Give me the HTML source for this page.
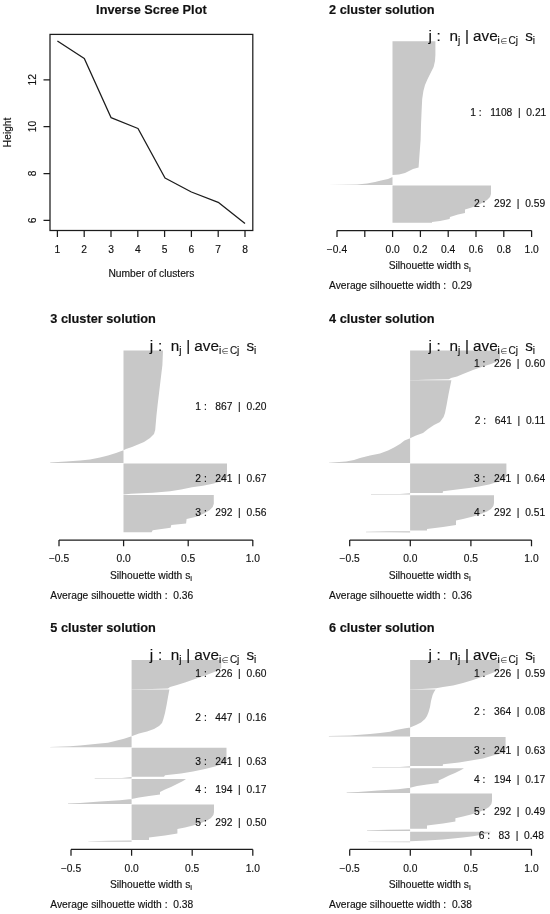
<!DOCTYPE html>
<html lang="en"><head><meta charset="utf-8"><title>Inverse Scree Plot and silhouette plots</title>
<style>
html,body{margin:0;padding:0;background:#fff}
svg{display:block}
text{font-family:"Liberation Sans","DejaVu Sans",sans-serif;fill:#111;stroke:#111;stroke-width:.15px;white-space:pre}
.t{font-size:12.75px;font-weight:bold}
.a{font-size:10.25px}
.h{font-size:15.3px}
.s{font-size:10.0px}
.e{font-family:"DejaVu Sans","Liberation Sans",sans-serif;font-size:8px;fill:#555;stroke:none}
.ss{font-size:8px}
.g polygon{fill:#c8c8c8}
</style></head><body>
<svg width="550" height="914" viewBox="0 0 550 914">
<rect width="550" height="914" fill="#fff"/>
<g class="g">
<polygon points="392.5,41.3 435.4,41.3 435.4,55 435,61 433.6,67 430.6,73 427.6,79 425,85 423.4,91 422.2,99 421.6,111 421,125 420.6,140 419.4,156 418.6,167.6 413,169 409,171 405,173 399,174.4 392.5,175 392.5,177 388,179 381,180.6 375,182 367,183.6 357,184.4 328.7,185 392.5,185.1"/>
<polygon points="392.5,185.5 491,185.5 491,194 490,197 487,200 482,203 476,206 470,208 465,209.6 465,213 458,214.4 450,217 449.6,219 440,221 432,222 432,222.8 392.5,222.8"/>
<polygon points="123.5,350.6 163,350.6 162.4,365 160,385 157.6,405 156.4,416 155.2,430 154,434 150,438 144,442 138,444.4 132,447 126,449 123.5,450.2 116,453 108,455.6 100,457.6 90,459.4 80,460.6 66,461.6 50.2,462.5 50.2,462.9 123.5,462.9"/>
<polygon points="123.5,463.5 227,463.5 227,478.3 222.6,480.7 213.8,483.6 202.9,485.7 192,487.3 181.1,489.5 170.2,491.2 152.7,492.7 130.9,493.8 123.5,494.5"/>
<polygon points="123.5,495.1 213.8,495.1 213.8,503.7 212.7,507 209.5,510.3 204,513.5 196.4,516.8 186.6,519 186.1,523.4 171.3,525.1 170.6,527.7 152.7,530.3 151.6,532.2 123.5,532.2"/>
<polygon points="410.1,350.6 500,350.6 500,359 497,361.4 491,364 483,366.6 473,370 463,374 457,376.6 451,378 449,379.3 425,379.8 410.1,380.3"/>
<polygon points="410.1,380.3 451.4,380.3 450,387 448.4,395 446.6,405 445,413 443.6,417 440,422 434,425 428,429 423,433 416,435.6 410.1,438.2 404.5,440.6 400,444 394,447.4 388,450.6 380,453.4 370,455.6 360,458 354,460 346,461.4 328.9,462.7 328.9,463.1 410.1,463.1"/>
<polygon points="410.1,463.6 506.4,463.6 506.4,476 505,479 499,481.6 489,484.4 479,486.4 469,488 457,489.4 443,491.2 442.7,492.9 410.1,492.9"/>
<polygon points="410.1,493.3 400,494 371,494.1 371,494.5 410.1,494.6"/>
<polygon points="410.1,495.2 494,495.2 494,503 493.4,506 491,509 487,511.6 481,514 473,516.6 463,519 456,520.4 456,525 443,527 427,529 427,530.5 410.1,530.5"/>
<polygon points="410.1,531.2 389,531.3 366,531.8 366,532.2 389,532.3 410.1,532.4"/>
<polygon points="131.6,660 221.2,660 221.2,668 218,670.6 213,672.6 205,675.6 195,679 185,682.6 177,685 170,687 168,688.5 143,689.2 131.6,689.6"/>
<polygon points="131.6,689.6 169.4,689.6 168,697 166.6,705 165,713 163.4,719 162,723 159,726 154,729 147,731.4 139,733.4 131.6,736.2 124,738.8 116,740.8 108,742.7 100,743.6 90,744.6 80,745.4 70,746.2 50.2,746.9 50.2,747.3 131.6,747.3"/>
<polygon points="131.6,747.8 226.5,747.8 226.5,761 224,763.6 215,766.4 205,769 193,771.6 181,773.4 165,775.2 164,776.7 131.6,776.7"/>
<polygon points="131.6,777.1 122,778 94.7,778.1 94.7,778.5 131.6,778.6"/>
<polygon points="131.6,779.1 186,779.1 183,781 177,784 171,787 165,789.6 160,792 160,794.4 149,796 139,797.6 131.6,799 120,800.3 100,801.5 80,802.9 68,803.5 68,803.9 131.6,803.9"/>
<polygon points="131.6,804.4 214,804.4 214,812 213.4,815 211,818 207,820.6 201,823 193,825.4 185,827.4 177.4,829 177.4,833.4 165,835.4 149,837.4 149,839.9 131.6,839.9"/>
<polygon points="131.6,840.6 110,840.8 88.3,841.2 88.3,841.6 110,841.7 131.6,841.8"/>
<polygon points="410.1,660 499.6,660 499.6,669 497,671 491,673.4 483,676.6 473,680 463,683 453,685.4 443,687 436,688.2 417,689.2 410.1,689.6"/>
<polygon points="410.1,689.6 435.6,689.6 434,692 432.6,695 431,701 430,707 428.6,712 427,716 425,719 421,722.6 416,725 410.1,727.4 404,728.6 396,730 390,731.8 380,733 370,734 360,734.8 350,735.4 328.9,736 328.9,736.4 410.1,736.4"/>
<polygon points="410.1,737 505.6,737 505.6,750 503,753 493,755.6 483,758.4 471,760.6 459,762.4 443,764.3 442.7,765.9 410.1,765.9"/>
<polygon points="410.1,766.3 400,767 372.2,767.1 372.2,767.5 410.1,767.6"/>
<polygon points="410.1,768.3 464,768.3 461,770 455,773 449,775.6 443,778.6 438.6,780.6 438.6,783 427,784.6 417,786 410.1,787.8 398,789.2 378,790.5 358,791.9 346.7,792.6 346.7,793 410.1,793"/>
<polygon points="410.1,793.6 492,793.6 492,801 491.4,804 489,807 485,809.4 479,812 471,814.4 463,816.6 455.4,818.2 455.4,821.4 443,823.4 427,825.6 427,828.8 410.1,828.8"/>
<polygon points="410.1,829.6 389,829.8 367,830.3 367,830.7 389,830.9 410.1,831"/>
<polygon points="410.1,831.7 491,831.7 489,833 483,834.6 473,836.2 463,837.4 453,838.6 443,839.6 427,840.6 410.1,841.2"/>
<polygon points="410.1,841.6 368.3,841.8 368.3,842.1 410.1,842.2"/>
</g>
<g>
<text class="t" x="151.4" y="13.6" text-anchor="middle">Inverse Scree Plot</text>
<rect x="50" y="34.4" width="202.8" height="196.1" fill="none" stroke="#1c1c1c" stroke-width="1.25"/>
<text class="a" x="57.4" y="252.5" text-anchor="middle">1</text>
<text class="a" x="84.2" y="252.5" text-anchor="middle">2</text>
<text class="a" x="111" y="252.5" text-anchor="middle">3</text>
<text class="a" x="137.8" y="252.5" text-anchor="middle">4</text>
<text class="a" x="164.6" y="252.5" text-anchor="middle">5</text>
<text class="a" x="191.4" y="252.5" text-anchor="middle">6</text>
<text class="a" x="218.2" y="252.5" text-anchor="middle">7</text>
<text class="a" x="245" y="252.5" text-anchor="middle">8</text>
<text class="a" text-anchor="middle" transform="translate(36.1 220.4) rotate(-90)">6</text>
<text class="a" text-anchor="middle" transform="translate(36.1 173.5) rotate(-90)">8</text>
<text class="a" text-anchor="middle" transform="translate(36.1 126.6) rotate(-90)">10</text>
<text class="a" text-anchor="middle" transform="translate(36.1 79.8) rotate(-90)">12</text>
<path d="M57.4 230.5V236.9M84.2 230.5V236.9M111 230.5V236.9M137.8 230.5V236.9M164.6 230.5V236.9M191.4 230.5V236.9M218.2 230.5V236.9M245 230.5V236.9M50 220.4H43.5M50 173.5H43.5M50 126.6H43.5M50 79.8H43.5" fill="none" stroke="#1c1c1c" stroke-width="1.25"/>
<text class="a" x="151.4" y="276.6" text-anchor="middle">Number of clusters</text>
<text class="a" text-anchor="middle" transform="translate(10.6 132.4) rotate(-90)">Height</text>
<polyline points="57.4,41 84.3,58.5 111,117.6 138,128.5 165,178 191.4,192 218.2,202.3 245,223.4" fill="none" stroke="#1c1c1c" stroke-width="1.3" stroke-linejoin="round"/>
</g>
<g transform="translate(278.7 0)">
<text class="t" x="50.3" y="13.6">2 cluster solution</text>
<text class="h" y="41.4"><tspan x="149.8">j</tspan><tspan x="157.9">:</tspan><tspan x="170.7">n</tspan><tspan class="s" x="179.2" dy="2.8">j</tspan><tspan x="186.3" dy="-2.8">|</tspan><tspan x="194.3">ave</tspan><tspan class="s" x="218.9" dy="2.8">i</tspan><tspan class="s e" x="221.7">∈</tspan><tspan class="s" x="229.9">Cj</tspan><tspan x="246.5" dy="-2.8">s</tspan><tspan class="s" x="254.1" dy="2.8">i</tspan></text>
<text class="a" x="58.3" y="253" text-anchor="middle">−0.4</text>
<text class="a" x="113.9" y="253" text-anchor="middle">0.0</text>
<text class="a" x="141.7" y="253" text-anchor="middle">0.2</text>
<text class="a" x="169.5" y="253" text-anchor="middle">0.4</text>
<text class="a" x="197.3" y="253" text-anchor="middle">0.6</text>
<text class="a" x="225.1" y="253" text-anchor="middle">0.8</text>
<text class="a" x="252.9" y="253" text-anchor="middle">1.0</text>
<path d="M58.3 230.6H252.9M58.3 230.6V236.9M86.1 230.6V236.9M113.9 230.6V236.9M141.7 230.6V236.9M169.5 230.6V236.9M197.3 230.6V236.9M225.1 230.6V236.9M252.9 230.6V236.9" fill="none" stroke="#1c1c1c" stroke-width="1.25"/>
<text class="a" x="151" y="269.4" text-anchor="middle">Silhouette width s<tspan class="ss" dy="2.3">i</tspan></text>
<text class="a" x="50.3" y="289.3">Average silhouette width :  0.29</text>
<text class="a" x="267.6" y="115.5" text-anchor="end">1 :   1108  |  0.21</text>
<text class="a" x="266.4" y="206.9" text-anchor="end">2 :   292  |  0.59</text>
</g>
<g transform="translate(0 309.4)">
<text class="t" x="50.3" y="13.6">3 cluster solution</text>
<text class="h" y="41.4"><tspan x="149.8">j</tspan><tspan x="157.9">:</tspan><tspan x="170.7">n</tspan><tspan class="s" x="179.2" dy="2.8">j</tspan><tspan x="186.3" dy="-2.8">|</tspan><tspan x="194.3">ave</tspan><tspan class="s" x="218.9" dy="2.8">i</tspan><tspan class="s e" x="221.7">∈</tspan><tspan class="s" x="229.9">Cj</tspan><tspan x="246.5" dy="-2.8">s</tspan><tspan class="s" x="254.1" dy="2.8">i</tspan></text>
<text class="a" x="59" y="253" text-anchor="middle">−0.5</text>
<text class="a" x="123.6" y="253" text-anchor="middle">0.0</text>
<text class="a" x="188.2" y="253" text-anchor="middle">0.5</text>
<text class="a" x="252.8" y="253" text-anchor="middle">1.0</text>
<path d="M59 230.6H252.8M59 230.6V236.9M123.6 230.6V236.9M188.2 230.6V236.9M252.8 230.6V236.9" fill="none" stroke="#1c1c1c" stroke-width="1.25"/>
<text class="a" x="151" y="269.4" text-anchor="middle">Silhouette width s<tspan class="ss" dy="2.3">i</tspan></text>
<text class="a" x="50.3" y="289.3">Average silhouette width :  0.36</text>
<text class="a" x="266.4" y="100.4" text-anchor="end">1 :   867  |  0.20</text>
<text class="a" x="266.4" y="172.7" text-anchor="end">2 :   241  |  0.67</text>
<text class="a" x="266.4" y="207.1" text-anchor="end">3 :   292  |  0.56</text>
</g>
<g transform="translate(278.7 309.4)">
<text class="t" x="50.3" y="13.6">4 cluster solution</text>
<text class="h" y="41.4"><tspan x="149.8">j</tspan><tspan x="157.9">:</tspan><tspan x="170.7">n</tspan><tspan class="s" x="179.2" dy="2.8">j</tspan><tspan x="186.3" dy="-2.8">|</tspan><tspan x="194.3">ave</tspan><tspan class="s" x="218.9" dy="2.8">i</tspan><tspan class="s e" x="221.7">∈</tspan><tspan class="s" x="229.9">Cj</tspan><tspan x="246.5" dy="-2.8">s</tspan><tspan class="s" x="254.1" dy="2.8">i</tspan></text>
<text class="a" x="71" y="253" text-anchor="middle">−0.5</text>
<text class="a" x="131.6" y="253" text-anchor="middle">0.0</text>
<text class="a" x="192.2" y="253" text-anchor="middle">0.5</text>
<text class="a" x="252.8" y="253" text-anchor="middle">1.0</text>
<path d="M71 230.6H252.8M71 230.6V236.9M131.6 230.6V236.9M192.2 230.6V236.9M252.8 230.6V236.9" fill="none" stroke="#1c1c1c" stroke-width="1.25"/>
<text class="a" x="151" y="269.4" text-anchor="middle">Silhouette width s<tspan class="ss" dy="2.3">i</tspan></text>
<text class="a" x="50.3" y="289.3">Average silhouette width :  0.36</text>
<text class="a" x="266.4" y="58.1" text-anchor="end">1 :   226  |  0.60</text>
<text class="a" x="266.4" y="114.6" text-anchor="end">2 :   641  |  0.11</text>
<text class="a" x="266.4" y="172.6" text-anchor="end">3 :   241  |  0.64</text>
<text class="a" x="266.4" y="207" text-anchor="end">4 :   292  |  0.51</text>
</g>
<g transform="translate(0 618.8)">
<text class="t" x="50.3" y="13.6">5 cluster solution</text>
<text class="h" y="41.4"><tspan x="149.8">j</tspan><tspan x="157.9">:</tspan><tspan x="170.7">n</tspan><tspan class="s" x="179.2" dy="2.8">j</tspan><tspan x="186.3" dy="-2.8">|</tspan><tspan x="194.3">ave</tspan><tspan class="s" x="218.9" dy="2.8">i</tspan><tspan class="s e" x="221.7">∈</tspan><tspan class="s" x="229.9">Cj</tspan><tspan x="246.5" dy="-2.8">s</tspan><tspan class="s" x="254.1" dy="2.8">i</tspan></text>
<text class="a" x="71" y="253" text-anchor="middle">−0.5</text>
<text class="a" x="131.6" y="253" text-anchor="middle">0.0</text>
<text class="a" x="192.2" y="253" text-anchor="middle">0.5</text>
<text class="a" x="252.8" y="253" text-anchor="middle">1.0</text>
<path d="M71 230.6H252.8M71 230.6V236.9M131.6 230.6V236.9M192.2 230.6V236.9M252.8 230.6V236.9" fill="none" stroke="#1c1c1c" stroke-width="1.25"/>
<text class="a" x="151" y="269.4" text-anchor="middle">Silhouette width s<tspan class="ss" dy="2.3">i</tspan></text>
<text class="a" x="50.3" y="289.3">Average silhouette width :  0.38</text>
<text class="a" x="266.4" y="58.5" text-anchor="end">1 :   226  |  0.60</text>
<text class="a" x="266.4" y="102" text-anchor="end">2 :   447  |  0.16</text>
<text class="a" x="266.4" y="146.2" text-anchor="end">3 :   241  |  0.63</text>
<text class="a" x="266.4" y="174.7" text-anchor="end">4 :   194  |  0.17</text>
<text class="a" x="266.4" y="207" text-anchor="end">5 :   292  |  0.50</text>
</g>
<g transform="translate(278.7 618.8)">
<text class="t" x="50.3" y="13.6">6 cluster solution</text>
<text class="h" y="41.4"><tspan x="149.8">j</tspan><tspan x="157.9">:</tspan><tspan x="170.7">n</tspan><tspan class="s" x="179.2" dy="2.8">j</tspan><tspan x="186.3" dy="-2.8">|</tspan><tspan x="194.3">ave</tspan><tspan class="s" x="218.9" dy="2.8">i</tspan><tspan class="s e" x="221.7">∈</tspan><tspan class="s" x="229.9">Cj</tspan><tspan x="246.5" dy="-2.8">s</tspan><tspan class="s" x="254.1" dy="2.8">i</tspan></text>
<text class="a" x="71" y="253" text-anchor="middle">−0.5</text>
<text class="a" x="131.6" y="253" text-anchor="middle">0.0</text>
<text class="a" x="192.2" y="253" text-anchor="middle">0.5</text>
<text class="a" x="252.8" y="253" text-anchor="middle">1.0</text>
<path d="M71 230.6H252.8M71 230.6V236.9M131.6 230.6V236.9M192.2 230.6V236.9M252.8 230.6V236.9" fill="none" stroke="#1c1c1c" stroke-width="1.25"/>
<text class="a" x="151" y="269.4" text-anchor="middle">Silhouette width s<tspan class="ss" dy="2.3">i</tspan></text>
<text class="a" x="50.3" y="289.3">Average silhouette width :  0.38</text>
<text class="a" x="266.4" y="58.5" text-anchor="end">1 :   226  |  0.59</text>
<text class="a" x="266.4" y="96.7" text-anchor="end">2 :   364  |  0.08</text>
<text class="a" x="266.4" y="135.5" text-anchor="end">3 :   241  |  0.63</text>
<text class="a" x="266.4" y="164.2" text-anchor="end">4 :   194  |  0.17</text>
<text class="a" x="266.4" y="196" text-anchor="end">5 :   292  |  0.49</text>
<text class="a" x="265.3" y="220.2" text-anchor="end">6 :   83  |  0.48</text>
</g>
</svg></body></html>
